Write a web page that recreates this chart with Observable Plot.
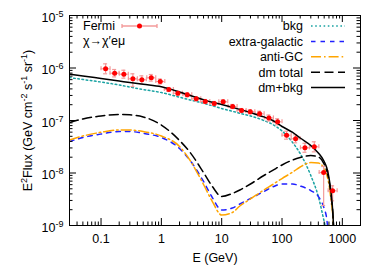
<!DOCTYPE html>
<html><head><meta charset="utf-8">
<script src="https://cdn.jsdelivr.net/npm/d3@7"></script>
<script src="https://cdn.jsdelivr.net/npm/@observablehq/plot@0.6"></script>
<style>
html,body{margin:0;padding:0;background:#fff;}
#chart svg{display:block;}
</style>
</head><body><div id="chart"></div>
<script>
// ---- Fermi data points ----
const fermiE   = [0.119,0.168,0.239,0.337,0.475,0.680,0.959,1.33,1.88,2.69,3.79,5.35,7.54,10.6,15.2,21.4,29.8,42.5,60.7,84.5,119,168,240,343,490,690];
const fermiELo = [0.100,0.141,0.201,0.284,0.400,0.573,0.808,1.12,1.58,2.27,3.19,4.50,6.35,8.96,12.8,18.0,25.1,35.8,51.1,71.2,100,142,202,289,413,582];
const fermiEHi = [0.141,0.199,0.283,0.400,0.564,0.807,1.14,1.58,2.23,3.19,4.50,6.35,8.95,12.6,18.0,25.4,35.4,50.5,72.0,100,142,200,285,408,581,820];
const fermiF   = [9.66e-7,7.96e-7,7.62e-7,6.23e-7,5.96e-7,6.51e-7,5.53e-7,3.90e-7,3.31e-7,3.09e-7,2.59e-7,2.30e-7,2.11e-7,2.27e-7,1.85e-7,1.55e-7,1.47e-7,1.34e-7,1.12e-7,9.45e-8,5.25e-8,4.48e-8,3.02e-8,3.16e-8,1.02e-8,4.58e-9];
const fermiFLo = [7.76e-7,6.77e-7,6.40e-7,4.44e-7,5.00e-7,5.63e-7,4.96e-7,3.57e-7,3.03e-7,2.83e-7,2.37e-7,2.11e-7,1.93e-7,2.08e-7,1.69e-7,1.42e-7,1.34e-7,1.20e-7,9.78e-8,8.28e-8,4.41e-8,3.76e-8,2.48e-8,2.53e-8,2.40e-9,2.95e-9];
const fermiFHi = [1.20e-6,9.36e-7,9.07e-7,7.75e-7,7.09e-7,7.52e-7,6.17e-7,4.25e-7,3.62e-7,3.37e-7,2.83e-7,2.51e-7,2.30e-7,2.48e-7,2.02e-7,1.69e-7,1.60e-7,1.50e-7,1.27e-7,1.08e-7,6.25e-8,5.34e-8,3.68e-8,3.93e-8,1.33e-8,5.70e-9];

// ---- model curves ----
const bkgE = [0.03,0.05,0.1,0.2,0.3,0.5,1,2,3,5,7,10,15,20,30,50,70,100,150,200,300,400,500,550];
const bkgF = [6.59e-7,6.04e-7,5.41e-7,4.74e-7,4.34e-7,3.89e-7,3.41e-7,2.78e-7,2.46e-7,2.13e-7,1.91e-7,1.69e-7,1.50e-7,1.37e-7,1.22e-7,1.0e-7,8.39e-8,6.31e-8,3.81e-8,2.35e-8,8.96e-9,3.57e-9,1.19e-9,7.4e-10];

const egE = [0.03,0.05,0.1,0.2,0.3,0.5,1,2,3,5,7,10,15,20,30,50,70,100,150,200,300,400,500,550,570];
const egF = [3.98e-8,4.74e-8,5.53e-8,6.17e-8,6.17e-8,5.70e-8,4.74e-8,2.93e-8,1.73e-8,6.89e-9,3.41e-9,1.97e-9,2.15e-9,2.57e-9,3.27e-9,4.44e-9,5.41e-9,6.17e-9,6.17e-9,5.65e-9,4.64e-9,3.57e-9,2.11e-9,1.36e-9,9.57e-10];

const agcE = [0.03,0.05,0.1,0.2,0.3,0.5,1,2,3,5,7,10,15,20,30,50,70,100,150,200,300,400,500,550,600,650,700,720];
const agcF = [4.26e-8,5.07e-8,5.96e-8,6.59e-8,6.59e-8,6.17e-8,5.07e-8,3.20e-8,1.73e-8,6.04e-9,2.86e-9,1.58e-9,1.77e-9,2.35e-9,3.20e-9,4.75e-9,6.04e-9,7.85e-9,1.04e-8,1.30e-8,1.58e-8,1.55e-8,1.22e-8,9.36e-9,6.04e-9,2.99e-9,1.36e-9,7.4e-10];

const dmE = [0.03,0.05,0.1,0.2,0.3,0.5,1,2,3,5,7,10,15,20,30,50,70,100,150,200,300,400,500,550,600,650,700,720];
const dmF = [9.16e-8,1.07e-7,1.22e-7,1.30e-7,1.28e-7,1.17e-7,8.20e-8,4.16e-8,2.46e-8,1.02e-8,5.53e-9,3.57e-9,4.07e-9,4.75e-9,6.17e-9,8.96e-9,1.12e-8,1.42e-8,1.77e-8,1.97e-8,2.15e-8,2.02e-8,1.48e-8,1.12e-8,7.2e-9,3.73e-9,1.55e-9,8.0e-10];

const sumE = [0.03,0.05,0.1,0.2,0.3,0.5,1,2,3,5,7,10,15,20,30,50,70,100,150,200,300,400,500,550,600,650,700,720];
const sumF = [7.62e-7,7.05e-7,6.31e-7,5.65e-7,5.29e-7,4.89e-7,4.39e-7,3.49e-7,2.99e-7,2.49e-7,2.22e-7,2.02e-7,1.78e-7,1.63e-7,1.42e-7,1.17e-7,1.0e-7,7.69e-8,5.91e-8,4.64e-8,3.34e-8,2.41e-8,1.66e-8,1.27e-8,8.2e-9,4.25e-9,1.55e-9,8.0e-10];

// ---- ticks & labels ----
const xMajor = [0.1,1,10,100,1000];
const xTickLabels = ["0.1","1","10","100","1000"];
const yMajor = [1e-9,1e-8,1e-7,1e-6,1e-5];
const yTickLabels = ["10^{-9}","10^{-8}","10^{-7}","10^{-6}","10^{-5}"];
const xTitle = "E (GeV)";
const yTitle = "E^{2}Flux (GeV cm^{-2} s^{-1} sr^{-1})";

// ---- legend ----
const legendNames  = ["bkg","extra-galactic","anti-GC","dm total","dm+bkg"];
const legendColors = ["#1aa3a3","#2020ff","#ffa500","#000000","#000000"];
const legendDashes = ["1.6,2.6","4.5,5","10,3,1.6,3","9,4.5",null];
const fermiLabel = "Fermi";
const modelLabel = "\u03c7\u2192\u03c7\u2032e\u03bc";

const FONT = "'Liberation Sans', Arial, Helvetica, sans-serif";
const fermi = fermiE.map((E,i)=>({E, F:fermiF[i], lo:fermiFLo[i], hi:fermiFHi[i], eLo:fermiELo[i], eHi:fermiEHi[i]}));
const curve = (E,F)=>E.map((e,i)=>({E:e, F:F[i]}));

const xMinor = [], yMinor = [];
for (const d of [0.01,0.1,1,10,100,1000]) for (let k=2;k<=9;k++){const v=+(k*d).toPrecision(3); if(v>0.03&&v<2000) xMinor.push(v);}
for (const d of [1e-9,1e-8,1e-7,1e-6]) for (let k=2;k<=9;k++) yMinor.push(k*d);

const W=379,H=266,ML=69,MR=19,MT=15,MB=41;
const FW=W-ML-MR, FH=H-MT-MB;
const MAJ=7, MIN=3.5;

function legendMark(index, scales, values, dims) {
  const g = d3.create("svg:g").attr("font-family", FONT).attr("font-size", 12.5).attr("fill","black");
  g.append("text").attr("x",83).attr("y",26).attr("dy","0.35em").attr("text-anchor","start").text(fermiLabel);
  g.append("line").attr("x1",122).attr("x2",157).attr("y1",26).attr("y2",26).attr("stroke","#f39a9a").attr("stroke-width",1.3);
  g.append("line").attr("x1",122).attr("x2",122).attr("y1",24).attr("y2",28).attr("stroke","#f39a9a").attr("stroke-width",1.3);
  g.append("line").attr("x1",157).attr("x2",157).attr("y1",24).attr("y2",28).attr("stroke","#f39a9a").attr("stroke-width",1.3);
  g.append("circle").attr("cx",139.5).attr("cy",26).attr("r",2.5).attr("fill","#ff0000");
  g.append("text").attr("x",83).attr("y",40.5).attr("dy","0.35em").attr("text-anchor","start").text(modelLabel);
  legendNames.forEach((n,i)=>{
    const y = 26 + i*15.4;
    g.append("text").attr("x",303).attr("y",y).attr("dy","0.35em").attr("text-anchor","end").text(n);
    const l = g.append("line").attr("x1",311).attr("x2",345).attr("y1",y).attr("y2",y)
      .attr("stroke",legendColors[i]).attr("stroke-width",1.5);
    if (legendDashes[i]) l.attr("stroke-dasharray",legendDashes[i]);
  });
  return g.node();
}

const lineOpts = (color,dash)=>({x:"E", y:"F", stroke:color, strokeWidth:1.5, strokeDasharray:dash, curve:"monotone-x", clip:true});
const errColor = "#f39a9a";

const plot = Plot.plot({
  width: W, height: H,
  marginLeft: ML, marginRight: MR, marginTop: MT, marginBottom: MB,
  style: {fontFamily: FONT, fontSize: "12.5px", background: "white", color: "black"},
  x: {type:"log", domain:[0.03,2000], axis:null},
  y: {type:"log", domain:[1e-9,1e-5], axis:null},
  marks: [
    Plot.line(curve(bkgE,bkgF), lineOpts(legendColors[0], legendDashes[0])),
    Plot.line(curve(egE,egF), lineOpts(legendColors[1], legendDashes[1])),
    Plot.line(curve(agcE,agcF), lineOpts(legendColors[2], legendDashes[2])),
    Plot.line(curve(dmE,dmF), lineOpts(legendColors[3], legendDashes[3])),
    Plot.ruleX(fermi, {x:"E", y1:"lo", y2:"hi", stroke:errColor, strokeWidth:1.2, clip:true}),
    Plot.ruleY(fermi, {y:"F", x1:"eLo", x2:"eHi", stroke:errColor, strokeWidth:1.2, clip:true}),
    Plot.ruleY(fermi, {y:"hi", x1:"E", x2:"E", insetLeft:-2, insetRight:-2, stroke:errColor, strokeWidth:1.2, clip:true}),
    Plot.ruleY(fermi, {y:"lo", x1:"E", x2:"E", insetLeft:-2, insetRight:-2, stroke:errColor, strokeWidth:1.2, clip:true}),
    Plot.ruleX(fermi, {x:"eLo", y1:"F", y2:"F", insetTop:-2, insetBottom:-2, stroke:errColor, strokeWidth:1.2, clip:true}),
    Plot.ruleX(fermi, {x:"eHi", y1:"F", y2:"F", insetTop:-2, insetBottom:-2, stroke:errColor, strokeWidth:1.2, clip:true}),
    Plot.line(curve(sumE,sumF), lineOpts(legendColors[4], null)),
    Plot.dot(fermi, {x:"E", y:"F", r:2.5, fill:"#ff0000", stroke:"none"}),
    Plot.frame({stroke:"black", strokeWidth:1}),
    Plot.ruleX(xMajor, {x:d=>d, insetTop:FH-MAJ, stroke:"black"}),
    Plot.ruleX(xMajor, {x:d=>d, insetBottom:FH-MAJ, stroke:"black"}),
    Plot.ruleX(xMinor, {x:d=>d, insetTop:FH-MIN, stroke:"black"}),
    Plot.ruleX(xMinor, {x:d=>d, insetBottom:FH-MIN, stroke:"black"}),
    Plot.ruleY(yMajor, {y:d=>d, insetRight:FW-MAJ, stroke:"black"}),
    Plot.ruleY(yMajor, {y:d=>d, insetLeft:FW-MAJ, stroke:"black"}),
    Plot.ruleY(yMinor, {y:d=>d, insetRight:FW-MIN, stroke:"black"}),
    Plot.ruleY(yMinor, {y:d=>d, insetLeft:FW-MIN, stroke:"black"}),
    Plot.text(xMajor, {x:d=>d, text:(d,i)=>xTickLabels[i], frameAnchor:"bottom", dy:13, lineAnchor:"middle", fill:"black"}),
    Plot.text(yMajor, {y:d=>d, text:(d,i)=>yTickLabels[i], frameAnchor:"left", dx:-6, dy:2, textAnchor:"end", lineAnchor:"middle", fill:"black"}),
    Plot.text([xTitle], {text:d=>d, frameAnchor:"bottom", dy:32, lineAnchor:"middle", textAnchor:"middle", fill:"black"}),
    Plot.text([yTitle], {text:d=>d, frameAnchor:"left", dx:-42, rotate:-90, lineAnchor:"middle", textAnchor:"middle", fill:"black"}),
    legendMark
  ]
});

function supText(el, s) {
  while (el.firstChild) el.removeChild(el.firstChild);
  const parts = s.split(/(\^\{[^}]*\})/);
  let raised = false;
  for (const p of parts) {
    if (!p) continue;
    const t = document.createElementNS("http://www.w3.org/2000/svg","tspan");
    if (p.startsWith("^{")) {
      t.textContent = p.slice(2,-1);
      t.setAttribute("font-size","9");
      t.setAttribute("dy","-5");
      raised = true;
    } else {
      t.textContent = p;
      if (raised) { t.setAttribute("dy","5"); raised = false; }
    }
    el.appendChild(t);
  }
}
plot.querySelectorAll("text").forEach(el=>{
  if (el.textContent.includes("^{")) supText(el, el.textContent);
});
document.getElementById("chart").appendChild(plot);
</script>
</body></html>
